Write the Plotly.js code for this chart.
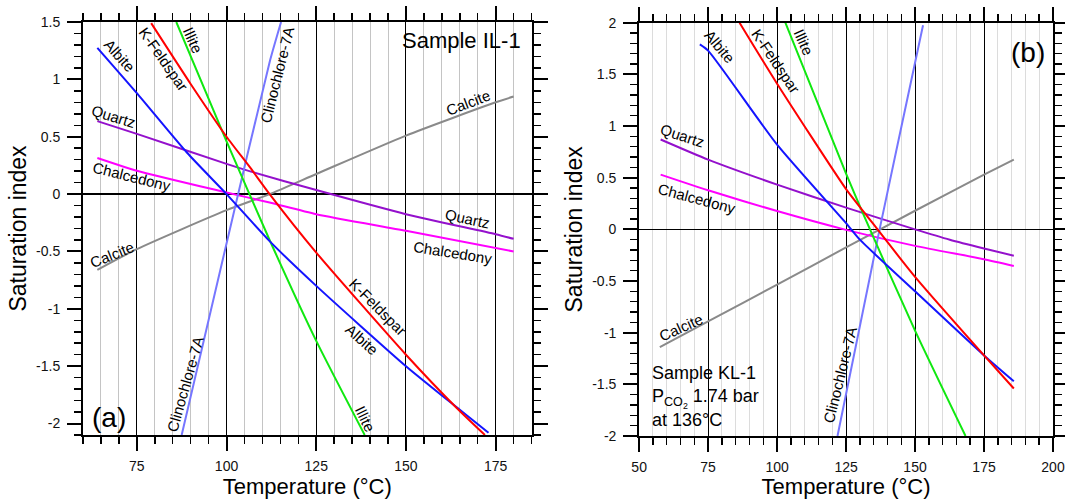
<!DOCTYPE html>
<html>
<head>
<meta charset="utf-8">
<script src="https://cdn.plot.ly/plotly-3.0.1.min.js"></script>
<style>html,body{margin:0;padding:0;background:#fff;}#chart{width:1065px;height:499px;}</style>
</head>
<body>
<div id="chart"></div>
<script>
// ---------- DATA: panel (a) Sample IL-1 ----------
const albiteA_T   = [64, 75, 89, 100, 112, 125, 150, 165, 173];
const albiteA_SI  = [1.275, 0.88, 0.36, 0.0, -0.41, -0.80, -1.50, -1.88, -2.08];
const kfeldA_T    = [79, 90, 100, 106.6, 112, 125, 150, 164, 172];
const kfeldA_SI   = [1.49, 0.96, 0.50, 0.23, 0.0, -0.51, -1.40, -1.86, -2.10];
const illiteA_T   = [86, 100, 112, 125, 138.5];
const illiteA_SI  = [1.5, 0.46, -0.40, -1.28, -2.1];
const clinoA_T    = [87.5, 100, 112, 115.2];
const clinoA_SI   = [-2.1, -0.43, 1.15, 1.5];
const calciteA_T  = [64, 75, 100, 112, 125, 150, 175, 180];
const calciteA_SI = [-0.66, -0.48, -0.14, 0.0, 0.175, 0.51, 0.80, 0.85];
const quartzA_T   = [64, 75, 100, 106.6, 125, 150, 175, 180];
const quartzA_SI  = [0.636, 0.525, 0.263, 0.198, 0.035, -0.175, -0.35, -0.39];
const chalcA_T    = [64, 75, 100, 112, 125, 150, 180];
const chalcA_SI   = [0.315, 0.204, 0.014, -0.074, -0.175, -0.32, -0.50];

// ---------- DATA: panel (b) Sample KL-1 ----------
const albiteB_T   = [72, 75, 100, 125, 130, 150, 175, 185.8];
const albiteB_SI  = [1.79, 1.73, 0.82, 0.06, -0.10, -0.60, -1.22, -1.47];
const kfeldB_T    = [86.4, 100, 125, 132, 150, 175, 185.8];
const kfeldB_SI   = [2.0, 1.41, 0.39, 0.15, -0.46, -1.22, -1.54];
const illiteB_T   = [103, 125, 131.2, 150, 168.3];
const illiteB_SI  = [2.0, 0.54, 0.15, -0.98, -2.0];
const clinoB_T    = [121.9, 137, 149.9, 152.9];
const clinoB_SI   = [-2.0, -0.02, 1.6, 1.975];
const calciteB_T  = [57.5, 75, 100, 125, 150, 175, 185.8];
const calciteB_SI = [-1.14, -0.89, -0.535, -0.175, 0.18, 0.53, 0.675];
const quartzB_T   = [57.8, 75, 100, 125, 150, 162.6, 175, 185.8];
const quartzB_SI  = [0.87, 0.675, 0.433, 0.21, 0.0, -0.10, -0.185, -0.255];
const chalcB_T    = [57.8, 75, 100, 125, 150, 175, 185.8];
const chalcB_SI   = [0.53, 0.378, 0.177, -0.005, -0.16, -0.29, -0.355];

// ---------- TICK LABELS ----------
const xTicksA = [75, 100, 125, 150, 175];
const xLabelsA = ['75', '100', '125', '150', '175'];
const xTicksB = [50, 75, 100, 125, 150, 175, 200];
const xLabelsB = ['50', '75', '100', '125', '150', '175', '200'];
const yTicksA = [-2, -1.5, -1, -0.5, 0, 0.5, 1, 1.5];
const yLabelsA = ['-2', '-1.5', '-1', '-0.5', '0', '0.5', '1', '1.5'];
const yTicksB = [-2, -1.5, -1, -0.5, 0, 0.5, 1, 1.5, 2];
const yLabelsB = ['-2', '-1.5', '-1', '-0.5', '0', '0.5', '1', '1.5', '2'];

// ---------- STYLE ----------
const FONT = "Arial, 'Liberation Sans', Helvetica, sans-serif";
const COL = {
  albite: '#1414ff', kfeld: '#ff0000', illite: '#10e810', clino: '#7676ff',
  calcite: '#8a8a8a', quartz: '#9410cc', chalc: '#ff00ff'
};

function line(x, y, color, xa, ya, name) {
  return {x: x, y: y, type: 'scatter', mode: 'lines', name: name,
    xaxis: xa, yaxis: ya, hoverinfo: 'skip', showlegend: false,
    line: {color: color, width: 2, shape: 'spline', smoothing: 0.6}};
}

const traces = [
  line(calciteA_T, calciteA_SI, COL.calcite, 'x', 'y', 'Calcite'),
  line(chalcA_T, chalcA_SI, COL.chalc, 'x', 'y', 'Chalcedony'),
  line(quartzA_T, quartzA_SI, COL.quartz, 'x', 'y', 'Quartz'),
  line(clinoA_T, clinoA_SI, COL.clino, 'x', 'y', 'Clinochlore-7A'),
  line(illiteA_T, illiteA_SI, COL.illite, 'x', 'y', 'Illite'),
  line(albiteA_T, albiteA_SI, COL.albite, 'x', 'y', 'Albite'),
  line(kfeldA_T, kfeldA_SI, COL.kfeld, 'x', 'y', 'K-Feldspar'),

  line(calciteB_T, calciteB_SI, COL.calcite, 'x2', 'y2', 'Calcite'),
  line(chalcB_T, chalcB_SI, COL.chalc, 'x2', 'y2', 'Chalcedony'),
  line(quartzB_T, quartzB_SI, COL.quartz, 'x2', 'y2', 'Quartz'),
  line(clinoB_T, clinoB_SI, COL.clino, 'x2', 'y2', 'Clinochlore-7A'),
  line(illiteB_T, illiteB_SI, COL.illite, 'x2', 'y2', 'Illite'),
  line(albiteB_T, albiteB_SI, COL.albite, 'x2', 'y2', 'Albite'),
  line(kfeldB_T, kfeldB_SI, COL.kfeld, 'x2', 'y2', 'K-Feldspar')
];

function xAxis(domain, range, anchor, tv, tt, gridc) {
  return {
    domain: domain, range: range, anchor: anchor, fixedrange: true,
    tickmode: 'array', tickvals: tv, ticktext: tt,
    ticks: 'outside', ticklen: 14, tickwidth: 2, tickcolor: '#000',
    ticklabelstandoff: 3,
    showline: true, linecolor: '#000', linewidth: 2, mirror: 'ticks',
    showgrid: true, gridcolor: '#000', gridwidth: 1, zeroline: false,
    tickfont: {family: FONT, size: 14, color: '#111'},
    minor: {tickmode: 'linear', tick0: 0, dtick: 5, ticks: 'outside', ticklen: 7,
            tickwidth: 1.5, tickcolor: '#000', showgrid: true, gridcolor: gridc, gridwidth: 1},
    title: {text: 'Temperature (°C)', font: {family: FONT, size: 22, color: '#000'}, standoff: 8}
  };
}
function yAxis(domain, range, anchor, tv, tt) {
  return {
    domain: domain, range: range, anchor: anchor, fixedrange: true,
    tickmode: 'array', tickvals: tv, ticktext: tt,
    ticks: 'outside', ticklen: 14, tickwidth: 2, tickcolor: '#000',
    ticklabelstandoff: 4,
    showline: true, linecolor: '#000', linewidth: 2, mirror: 'ticks',
    showgrid: false, zeroline: true, zerolinecolor: '#000', zerolinewidth: 1.5,
    tickfont: {family: FONT, size: 14, color: '#111'},
    minor: {tickmode: 'linear', tick0: 0, dtick: 0.1, ticks: 'outside', ticklen: 7,
            tickwidth: 1.5, tickcolor: '#000', showgrid: false},
    title: {text: 'Saturation index', font: {family: FONT, size: 23, color: '#000'}, standoff: 3}
  };
}

function lab(text, x, y, ang, xr, yr, size) {
  return {text: text, x: x, y: y, xref: xr, yref: yr, textangle: ang, showarrow: false,
    xanchor: 'center', yanchor: 'middle', font: {family: FONT, size: size || 15, color: '#000'}};
}

const annotations = [
  // panel (a)
  lab('Albite', 70.2, 1.21, 48, 'x', 'y'),
  lab('K-Feldspar', 82.3, 1.18, 55, 'x', 'y'),
  lab('Illite', 90.6, 1.336, 66, 'x', 'y'),
  lab('Clinochlore-7A', 114, 1.036, -76, 'x', 'y'),
  lab('Quartz', 68.6, 0.675, 17, 'x', 'y'),
  lab('Chalcedony', 73.6, 0.154, 14, 'x', 'y'),
  lab('Calcite', 167.4, 0.802, -21, 'x', 'y'),
  lab('Quartz', 167.1, -0.21, 12, 'x', 'y'),
  lab('Chalcedony', 163, -0.51, 9, 'x', 'y'),
  lab('Calcite', 68.2, -0.525, -22, 'x', 'y'),
  lab('Clinochlore-7A', 88.4, -1.658, -74, 'x', 'y'),
  lab('K-Feldspar', 142, -0.984, 45, 'x', 'y'),
  lab('Albite', 137.7, -1.27, 42, 'x', 'y'),
  lab('Illite', 138.6, -1.956, 64, 'x', 'y'),
  lab('Sample IL-1', 165.6, 1.336, 0, 'x', 'y', 22),
  lab('(a)', 67.2, -1.947, 0, 'x', 'y', 28),
  // panel (b)
  lab('Albite', 79.2, 1.77, 50, 'x2', 'y2'),
  lab('K-Feldspar', 99.3, 1.63, 56, 'x2', 'y2'),
  lab('Illite', 109.7, 1.807, 66, 'x2', 'y2'),
  lab('Quartz', 65.6, 0.91, 18, 'x2', 'y2'),
  lab('Chalcedony', 71, 0.297, 15, 'x2', 'y2'),
  lab('Calcite', 65, -0.946, -24, 'x2', 'y2'),
  lab('Clinochlore-7A', 122.7, -1.413, -76, 'x2', 'y2'),
  lab('(b)', 190.9, 1.716, 0, 'x2', 'y2', 28),
  {text: 'Sample KL-1<br>P<sub>CO<sub>2</sub></sub> 1.74 bar<br>at 136°C', x: 53.9, y: -1.278,
   xref: 'x2', yref: 'y2', xanchor: 'left', yanchor: 'top', align: 'left', showarrow: false,
   font: {family: FONT, size: 18, color: '#000'}}
];

const layout = {
  width: 1065, height: 499,
  margin: {l: 83, r: 11.7, t: 22, b: 63},
  paper_bgcolor: '#fff', plot_bgcolor: '#fff',
  font: {family: FONT, color: '#000'},
  showlegend: false,
  xaxis: xAxis([0, 0.46243], [60, 185], 'y', xTicksA, xLabelsA, '#c4c4c4'),
  yaxis: yAxis([0.0024, 1], [-2.1, 1.5], 'x', yTicksA, yLabelsA),
  xaxis2: xAxis([0.57333, 1], [50, 200], 'y2', xTicksB, xLabelsB, '#dcdcdc'),
  yaxis2: yAxis([0, 0.9983], [-2, 2], 'x2', yTicksB, yLabelsB),
  annotations: annotations
};

Plotly.newPlot('chart', traces, layout, {displayModeBar: false, staticPlot: true});
</script>
</body>
</html>
